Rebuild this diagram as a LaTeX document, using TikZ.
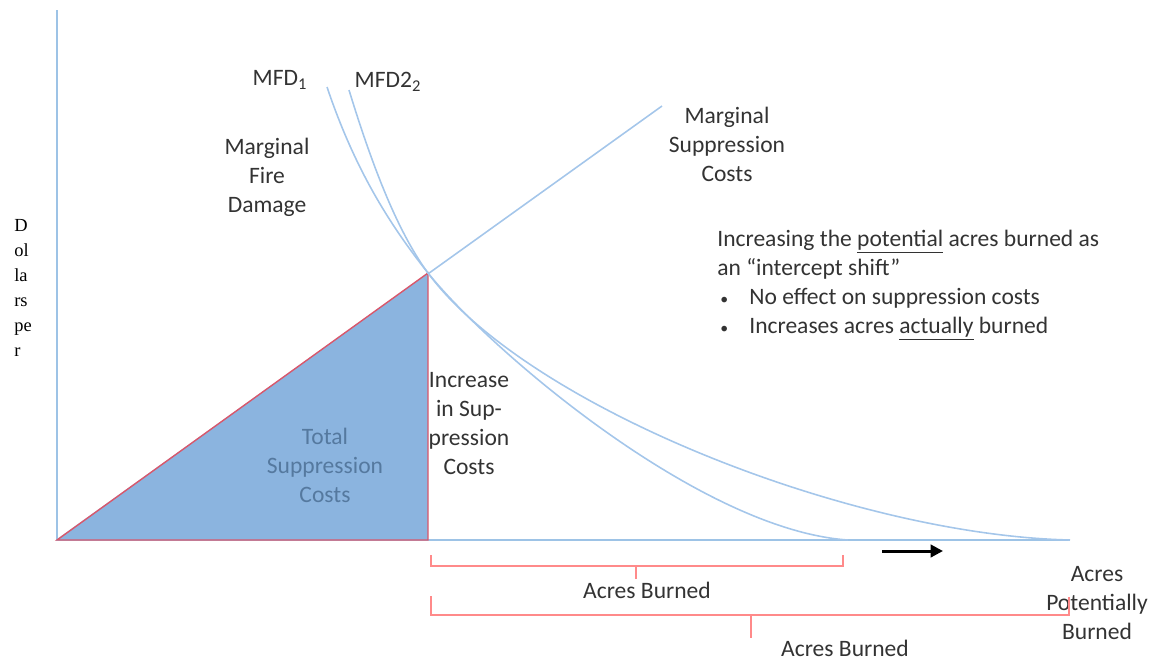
\documentclass[tikz,border=0pt]{standalone}
\usepackage{fontspec}
\setmainfont{Carlito}
\newfontfamily\axisfont{Liberation Serif}
\usetikzlibrary{positioning, arrows.meta}

\definecolor{axisblue}{HTML}{9DC3E6}
\definecolor{curveblue}{HTML}{A4C6EA}
\definecolor{areafill}{HTML}{8BB4DF}
\definecolor{areaedge}{HTML}{D9576B}
\definecolor{bracered}{HTML}{FF8A8A}
\definecolor{areatext}{HTML}{55799F}
\definecolor{labelgray}{HTML}{333333}

\begin{document}
\begin{tikzpicture}[x=0.02cm,y=-0.02cm,
		label text/.style={font=\fontsize{13.4pt}{16.5pt}\selectfont, text=labelgray, align=center, inner sep=0pt},
		curve line/.style={draw=curveblue, line width=0.9pt},
		brace line/.style={draw=bracered, line width=0.9pt}]
		\useasboundingbox (0,0) rectangle (1167,660);

		%% Points
		\begin{scope}
			\coordinate (origin) at (57,540);
			\coordinate (top) at (57,10);
			\coordinate (axis_end) at (1070,540);
			\coordinate (peak) at (428,273);
			\coordinate (peak_base) at (428,540);
			\coordinate (msc_end) at (662,106);
			\coordinate (mfd1_start) at (327,87);
			\coordinate (mfd1_end) at (848,540);
			\coordinate (mfd2_start) at (349,90);
		\end{scope}

		% Axes and curves
		\begin{scope}
			\draw[draw=axisblue, line width=0.9pt] (top) -- (origin) -- (axis_end);
			\draw[curve line] (origin) -- (msc_end);
			\filldraw[fill=areafill, draw=areaedge, line width=0.8pt] (origin) -- (peak) -- (peak_base) -- cycle;
			\draw[curve line] (mfd1_start) .. controls (355,170) and (390,225) .. (peak)
				.. controls (490,350) and (700,530) .. (mfd1_end);
			\draw[curve line] (mfd2_start) .. controls (375,175) and (400,235) .. (peak)
				.. controls (526,406) and (850,535) .. (axis_end);
		\end{scope}

		% Labels
		\begin{scope}
			\node (dollars) at (14,288) [anchor=west, align=left, inner sep=0pt, font=\axisfont\fontsize{10.5pt}{14.2pt}\selectfont] {D\\ol\\la\\rs\\pe\\r};
			\node (mfd1) at (280,80) [label text] {MFD\textsubscript{1}};
			\node (mfd2) at (388,82) [label text] {MFD2\textsubscript{2}};
			\node (fire_damage) at (267,177) [label text] {Marginal\\Fire\\Damage};
			\node (supp_costs) at (727,144) [label text] {Marginal\\Suppression\\Costs};
			\node (total_costs) at (325,465) [label text, text=areatext] {Total\\Suppression\\Costs};
			\node (increase) at (469,424) [label text] {Increase\\in Sup-\\pression\\Costs};
			\node (shift_note) at (717,285) [label text, anchor=west, align=left] {Increasing the \underline{potential} acres burned as\\an ``intercept shift''\\\hspace*{0.06cm}\makebox[0.58cm][l]{\small\textbullet}No effect on suppression costs\\\hspace*{0.06cm}\makebox[0.58cm][l]{\small\textbullet}Increases acres \underline{actually} burned};
			\node (potential) at (1097,603) [label text] {Acres\\Potentially\\Burned};
		\end{scope}

		% Braces
		\begin{scope}
			\coordinate (b1_left) at (431,555);
			\coordinate (b1_right) at (843,555);
			\coordinate (b1_mid) at (636,566);
			\draw[brace line] (b1_left) -- (431,566) -- (843,566) -- (b1_right);
			\draw[brace line] (b1_mid) -- (636,579);
			\node (burned) at (647,590) [label text] {Acres Burned};

			\coordinate (b2_left) at (431,596);
			\coordinate (b2_right) at (1069,597);
			\coordinate (b2_mid) at (751,615);
			\draw[brace line] (b2_left) -- (431,615) -- (1069,615) -- (b2_right);
			\draw[brace line] (b2_mid) -- (751,638);
			\node (burned_all) at (845,648) [label text] {Acres Burned};
		\end{scope}

		% Shift arrow
		\coordinate (shift_from) at (882,551);
		\coordinate (shift_to) at (943,551);
		\draw[-{Triangle[length=7pt,width=7pt]}, line width=1.7pt] (shift_from) -- (shift_to);
	\end{tikzpicture}
\end{document}
